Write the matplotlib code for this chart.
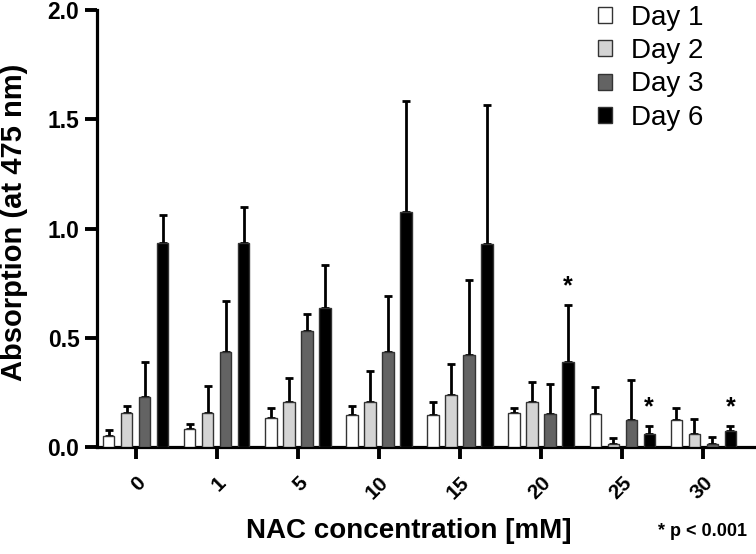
import numpy as np
import matplotlib.pyplot as plt
from matplotlib.patches import Patch

plt.rcParams['font.family'] = ['Liberation Sans', 'DejaVu Sans']

concentrations = ['0', '1', '5', '10', '15', '20', '25', '30']
days = ['Day 1', 'Day 2', 'Day 3', 'Day 6']
colors = ['white', '#d4d4d4', '#636363', 'black']

day1 = [0.05, 0.085, 0.135, 0.145, 0.145, 0.155, 0.15, 0.125]
day2 = [0.155, 0.155, 0.205, 0.205, 0.24, 0.205, 0.015, 0.06]
day3 = [0.23, 0.435, 0.53, 0.435, 0.42, 0.15, 0.124, 0.015]
day6 = [0.935, 0.935, 0.635, 1.075, 0.93, 0.39, 0.06, 0.073]

# upper end of error bars
day1_top = [0.08, 0.105, 0.18, 0.19, 0.205, 0.18, 0.275, 0.178]
day2_top = [0.19, 0.28, 0.315, 0.35, 0.38, 0.30, 0.04, 0.128]
day3_top = [0.39, 0.67, 0.61, 0.69, 0.765, 0.29, 0.305, 0.044]
day6_top = [1.06, 1.10, 0.835, 1.585, 1.565, 0.65, 0.096, 0.096]

significant = [5, 6, 7]  # groups with * on Day 6

fig = plt.figure(figsize=(7.56, 5.54), dpi=100)
ax = fig.add_axes([0.128, 0.193, 0.872, 0.789])

x = np.arange(len(concentrations))
width = 0.14
pitch = 0.222
means = [day1, day2, day3, day6]
tops = [day1_top, day2_top, day3_top, day6_top]
for i, (m, t, c) in enumerate(zip(means, tops, colors)):
    m = np.array(m)
    err = np.array(t) - m
    xpos = x + (i - 1.5) * pitch
    ax.bar(xpos, m, width, color=c, edgecolor='#333333', linewidth=1, zorder=3)
    ax.errorbar(xpos, m, yerr=[np.zeros_like(err), err], fmt='none',
                ecolor='black', elinewidth=2, capsize=2.8, capthick=2, zorder=2)

for g in significant:
    xp = g + 1.5 * pitch
    ax.text(xp, day6_top[g] + 0.03, '*', ha='center', va='bottom',
            fontsize=18, fontweight='bold')

ax.set_ylim(0, 2.0)
ax.set_xlim(-0.48, 7.65)
ax.set_yticks([0, 0.5, 1.0, 1.5, 2.0])
ax.set_yticklabels(['0.0', '0.5', '1.0', '1.5', '2.0'])
ax.set_xticks(x)
ax.set_xticklabels(concentrations, rotation=45, ha='right', rotation_mode='anchor')
for lab in ax.get_yticklabels():
    lab.set_fontweight('bold')
    lab.set_fontsize(16.5)
for lab in ax.get_xticklabels():
    lab.set_fontweight('bold')
    lab.set_fontsize(15)

ax.spines['top'].set_visible(False)
ax.spines['right'].set_visible(False)
ax.spines['left'].set_linewidth(2.3)
ax.spines['bottom'].set_linewidth(2.3)
ax.tick_params(axis='both', direction='out', length=8.5, width=2.8)
ax.tick_params(axis='x', pad=10)
ax.tick_params(axis='y', pad=4)

fig.text(0.0185, 0.599, 'Absorption (at 475 nm)', rotation=90, ha='center',
         va='center', fontsize=21, fontweight='bold')
fig.text(0.541, 0.042, 'NAC concentration [mM]', ha='center', va='center',
         fontsize=20, fontweight='bold')
fig.text(0.988, 0.041, '* p < 0.001', ha='right', va='center',
         fontsize=13, fontweight='bold')

handles = [Patch(facecolor=c, edgecolor='#333333', linewidth=1) for c in colors]
ax.legend(handles, days, loc='upper left', bbox_to_anchor=(598 / 756, 1 - 5 / 554),
          bbox_transform=fig.transFigure, frameon=False, fontsize=20,
          handlelength=0.5, handleheight=0.5, handletextpad=0.7,
          labelspacing=0.26, borderpad=0, borderaxespad=0)

fig.savefig('out.png', dpi=100)
